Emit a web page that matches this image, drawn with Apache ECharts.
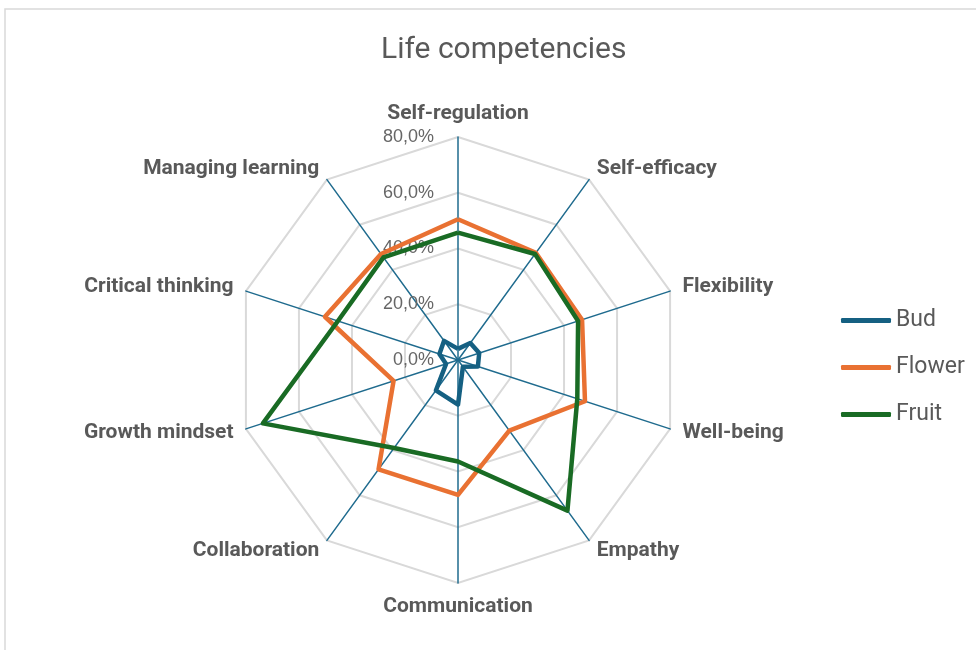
<!DOCTYPE html>
<html>
<head>
<meta charset="utf-8">
<title>Life competencies</title>
<script src="https://cdn.jsdelivr.net/npm/echarts@6/dist/echarts.min.js"></script>
<style>
	html,body{margin:0;padding:0;background:#fff;}
	#chart{width:976px;height:650px;}
</style>
</head>
<body>
<div id="chart"></div>
<script>
// categories, clockwise from the top as in the picture
var categories = ['Self-regulation','Self-efficacy','Flexibility','Well-being','Empathy',
	'Communication','Collaboration','Growth mindset','Critical thinking','Managing learning'];
var bud    = [4.0, 7.5, 8.0, 7.5, 3.0, 16.0, 13.5, 4.5, 7.0, 8.5];
var flower = [50.5, 47.5, 46.8, 47.9, 31.3, 48.4, 48.5, 24.3, 50.2, 47.0];
var fruit  = [45.7, 47.0, 45.3, 45.0, 66.8, 36.4, 39.0, 73.6, 45.3, 45.5];
var seriesNames = ['Bud','Flower','Fruit'];
var colors = ['#156082','#E97132','#196B24'];
var tickMax = 80;
var tickStep = 20;

// echarts lays radar axes out counter-clockwise, so keep the first one and flip the rest
function clockwise(arr){
	var out = [arr[0]];
	for (var i = arr.length - 1; i > 0; i--) {
		out.push(arr[i]);
	}
	return out;
}

function pct(v){
	return v.toFixed(1).replace('.', ',') + '%';
}

var chart = echarts.init(document.getElementById('chart'));

var indicator = clockwise(categories).map(function(name){
	return {name: name, min: 0, max: tickMax};
});

var values = [bud, flower, fruit];
var radarData = [];
for (var i = 0; i < values.length; i++) {
	radarData.push({
		name: seriesNames[i],
		value: clockwise(values[i]),
		itemStyle: {color: colors[i]},
		lineStyle: {color: colors[i], width: 4.5, join: 'round'}
	});
}

var option = {
	animation: false,
	textStyle: {fontFamily: 'Roboto'},
	graphic: [{
		type: 'rect',
		shape: {x: 5, y: 9, width: 1000, height: 700},
		style: {fill: 'none', stroke: '#d9d9d9', lineWidth: 1.5},
		silent: true,
		z: -1
	}],
	title: {
		text: 'Life competencies',
		left: 376,
		top: 30,
		textStyle: {
			color: '#595959',
			fontSize: 30,
			fontWeight: 'normal',
			fontFamily: 'Roboto'
		}
	},
	legend: {
		orient: 'vertical',
		left: 841,
		top: 309,
		icon: 'roundRect',
		itemWidth: 50,
		itemHeight: 5,
		itemGap: 24,
		padding: 0,
		data: seriesNames,
		textStyle: {color: '#595959', fontSize: 23, fontFamily: 'Roboto'}
	},
	grid: {left: 458, top: 137, width: 10, height: 223},
	xAxis: {type: 'value', show: false},
	yAxis: {
		type: 'value',
		min: 0,
		max: tickMax,
		interval: tickStep,
		axisLine: {show: false},
		axisTick: {show: false},
		splitLine: {show: false},
		axisLabel: {
			margin: 24,
			color: '#666666',
			fontSize: 18,
			fontFamily: 'Liberation Sans',
			formatter: pct
		}
	},
	radar: {
		center: [458, 360],
		radius: 223,
		startAngle: 90,
		splitNumber: 4,
		shape: 'polygon',
		nameGap: 13,
		indicator: indicator,
		axisName: {
			color: '#595959',
			fontSize: 21,
			fontWeight: 'bold',
			fontFamily: 'Roboto'
		},
		axisLine: {lineStyle: {color: '#1f6b8e', width: 1.5}},
		axisTick: {show: false},
		axisLabel: {show: false},
		splitLine: {lineStyle: {color: '#d9d9d9', width: 2}},
		splitArea: {show: false}
	},
	series: [{
		type: 'radar',
		symbol: 'none',
		z: 3,
		data: radarData
	}]
};

chart.setOption(option);
</script>
</body>
</html>
